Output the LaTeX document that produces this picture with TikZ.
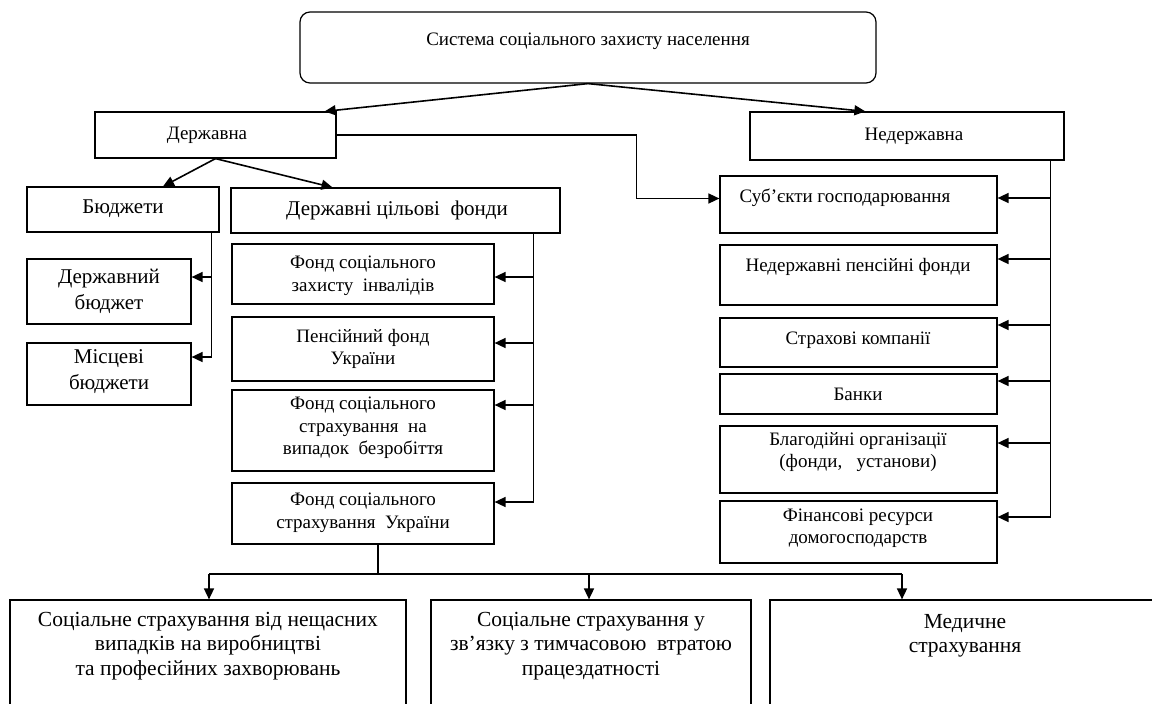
\documentclass[tikz,border=0pt]{standalone}
\usepackage{fontspec}
\setmainfont{Liberation Serif}
\usetikzlibrary{arrows.meta,calc}
\newcommand\fsz[2]{\fontsize{#1}{#2}\selectfont}
\newcommand\bx[6][]{\node[box,#1, minimum width={(#4)-(#2)}, minimum height={(#5)-(#3)}] (#6) at ({((#2)+(#4))/2},{((#3)+(#5))/2}) {};}
\begin{document}
\begin{tikzpicture}[x=1pt,y=-1pt,
  box/.style={draw, line width=1.2pt, inner sep=0pt},
  big/.style={align=center, inner sep=0pt, font=\fsz{21}{26}},
  mid/.style={align=center, inner sep=0pt, font=\fsz{19}{23.5}},
  low/.style={align=center, inner sep=0pt, font=\fsz{21.5}{24.5}},
  small/.style={align=center, inner sep=0pt, font=\fsz{19}{22.5}},
  conn/.style={line width=1.6pt},
  arr/.style={conn, -{Triangle[length=11pt,width=10pt]}},
]
\clip (0,0) rectangle (1152,704);
\fill[white] (0,0) rectangle (1152,704);
% boxes
\bx[rounded corners=10pt]{300}{12}{876}{83}{sys}
\bx{95}{112}{336}{158}{derzh}
\bx{750}{112}{1064}{160}{nederzh}
\bx{27}{187}{219}{232}{bud}
\bx{231}{188}{560}{233}{dcf}
\bx{27}{259}{191}{324}{dbud}
\bx{27}{343}{191}{405}{mbud}
\bx{232}{244}{494}{304}{fszi}
\bx{232}{317}{494}{381}{pfu}
\bx{232}{390}{494}{471}{fssb}
\bx{232}{483}{494}{544}{fssu}
\bx{720}{176}{997}{233}{subj}
\bx{720}{245}{997}{305}{npf}
\bx{720}{318}{997}{367}{strakh}
\bx{720}{374}{997}{414}{bank}
\bx{720}{426}{997}{493}{blag}
\bx{720}{501}{997}{563}{fin}
\bx{10}{600}{406}{730}{bA}
\bx{431}{600}{751}{730}{bB}
\bx{770}{600}{1180}{730}{bC}
% texts
\node[mid] (t-sys) at (588,41) {Система соціального захисту населення};
\node[mid] (t-derzh) at (207,135) {Державна};
\node[mid] (t-nederzh) at (914,136) {Недержавна};
\node[big] (t-bud) at (123,209) {Бюджети};
\node[big] (t-dcf) at (397,210) {Державні цільові\ \ фонди};
\node[big] (t-dbud) at (109,291) {Державний\\бюджет};
\node[big] (t-mbud) at (109,372) {Місцеві\\бюджети};
\node[small] (t-fszi) at (363,276) {Фонд соціального\\захисту\ \ інвалідів};
\node[small] (t-pfu) at (363,349) {Пенсійний фонд\\України};
\node[small] (t-fssb) at (363,428) {Фонд соціального\\страхування\ \ на\\випадок\ \ безробіття};
\node[small] (t-fssu) at (363,513) {Фонд соціального\\страхування\ \ України};
\node[small] (t-subj) at (845,198) {Суб’єкти господарювання};
\node[small] (t-npf) at (858,267) {Недержавні пенсійні фонди};
\node[small] (t-strakh) at (858,340) {Страхові компанії};
\node[small] (t-bank) at (858,394) {Банки};
\node[small] (t-blag) at (858,452) {Благодійні організації\\(фонди,\ \ \ установи)};
\node[small] (t-fin) at (858,528) {Фінансові ресурси\\домогосподарств};
\node[low] (t-bA) at (208,646) {Соціальне страхування від нещасних\\випадків на виробництві\\та професійних захворювань};
\node[low] (t-bB) at (591,646) {Соціальне страхування у\\зв’язку з тимчасовою\ \ втратою\\працездатності};
\node[low] (t-bC) at (965,636) {Медичне\\страхування};
% connectors from the top
\draw[arr] (sys.south) -- ($(derzh.north east)+(-12,0)$);
\draw[arr] (sys.south) -- ($(nederzh.north west)+(116,0)$);
\draw[arr] (derzh.south) -- ($(bud.north)+(40,0)$);
\draw[arr] (derzh.south) -- ($(dcf.north)+(-63,0)$);
\draw[arr] (derzh.east) -| ($(subj.west)+(-83,-6)$) -- ($(subj.west)+(0,-6)$);
% budgets trunk
\coordinate (bt) at ($(bud.south east)+(-8,0)$);
\draw[conn] (bt) -- (bt |- 0,357);
\draw[arr] (bt |- 0,277) -- (dbud.east |- 0,277);
\draw[arr] (bt |- 0,357) -- (mbud.east |- 0,357);
% funds trunk
\coordinate (ft) at ($(dcf.south east)+(-27,0)$);
\draw[conn] (ft) -- (ft |- 0,502);
\draw[arr] (ft |- 0,277) -- (fszi.east |- 0,277);
\draw[arr] (ft |- 0,343) -- (pfu.east |- 0,343);
\draw[arr] (ft |- 0,405) -- (fssb.east |- 0,405);
\draw[arr] (ft |- 0,502) -- (fssu.east |- 0,502);
% non-state trunk
\coordinate (rt) at ($(nederzh.south east)+(-14,0)$);
\draw[conn] (rt) -- (rt |- 0,517);
\draw[arr] (rt |- 0,198) -- (subj.east |- 0,198);
\draw[arr] (rt |- 0,259) -- (npf.east |- 0,259);
\draw[arr] (rt |- 0,325) -- (strakh.east |- 0,325);
\draw[arr] (rt |- 0,381) -- (bank.east |- 0,381);
\draw[arr] (rt |- 0,443) -- (blag.east |- 0,443);
\draw[arr] (rt |- 0,517) -- (fin.east |- 0,517);
% bottom distribution
\coordinate (bs) at ($(fssu.south)+(15,0)$);
\coordinate (bj) at (bs |- 0,574);
\draw[conn] (bs) -- (bj);
\draw[conn] (209,574) -- (902,574);
\draw[arr] (209,574) -- (bA.north -| 209,0);
\draw[arr] (589,574) -- (bB.north -| 589,0);
\draw[arr] (902,574) -- (bC.north -| 902,0);
\end{tikzpicture}
\end{document}
